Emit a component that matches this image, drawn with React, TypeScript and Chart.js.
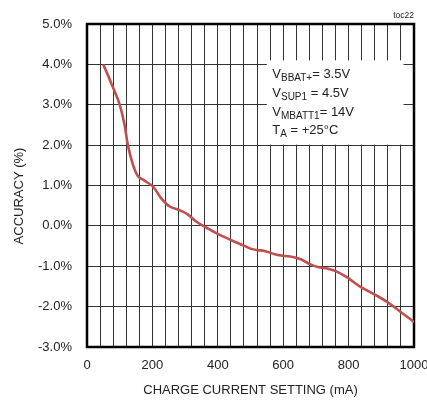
import React, { useEffect, useRef } from "react";
import { Chart, registerables } from "chart.js";

Chart.register(...registerables);

const current = [50, 85, 100, 115, 125, 141, 156, 176, 202, 227, 253, 283, 309, 334, 360, 400, 440, 480, 502, 520, 543, 574, 600, 628, 652, 680, 706, 737, 761, 798, 834, 880, 921, 962, 1000];
const accuracy = [4.0, 3.32, 3.0, 2.5, 2.0, 1.5, 1.23, 1.12, 0.97, 0.68, 0.48, 0.39, 0.28, 0.11, -0.02, -0.2, -0.35, -0.49, -0.57, -0.6, -0.62, -0.7, -0.74, -0.77, -0.82, -0.94, -1.02, -1.06, -1.12, -1.29, -1.5, -1.7, -1.9, -2.15, -2.38];
const xLabelValues = [0, 200, 400, 600, 800, 1000];
const yMin = -3;
const yMax = 5;
const xTitle = "CHARGE CURRENT SETTING (mA)";
const yTitle = "ACCURACY (%)";
const noteLines: [string, string, string][] = [
  ["V", "BBAT+", "= 3.5V"],
  ["V", "SUP1", " = 4.5V"],
  ["V", "MBATT1", "= 14V"],
  ["T", "A", " = +25°C"],
];
const tag = "toc22";

const FONT = "'Liberation Sans', Arial, sans-serif";
const TEXT = "#222";

const overlay = {
  id: "overlay",
  beforeDatasetsDraw(chart: any) {
    const { ctx, chartArea: a, scales } = chart;
    const xs = scales.x, ys = scales.y;
    ctx.save();
    // note box
    const bl = xs.getPixelForValue(550);
    const br = xs.getPixelForValue(968);
    const bt = ys.getPixelForValue(4.1);
    const bb = ys.getPixelForValue(2) - 0.5;
    ctx.fillStyle = "#fff";
    ctx.fillRect(bl, bt, br - bl, bb - bt);
    // border
    ctx.strokeStyle = "#000";
    ctx.lineWidth = 2.5;
    ctx.strokeRect(a.left, a.top, a.right - a.left, a.bottom - a.top);
    // note text
    ctx.fillStyle = TEXT;
    ctx.textBaseline = "alphabetic";
    ctx.textAlign = "left";
    let y = 78.3;
    const x0 = 272.3;
    for (const [m, s, r] of noteLines) {
      ctx.font = `13px ${FONT}`;
      ctx.fillText(m, x0, y);
      let x = x0 + ctx.measureText(m).width;
      ctx.font = `10px ${FONT}`;
      ctx.fillText(s, x, y + 3);
      x += ctx.measureText(s).width;
      ctx.font = `13px ${FONT}`;
      ctx.fillText(r, x, y);
      y += 18.6;
    }
    // tag
    ctx.font = `8.5px ${FONT}`;
    ctx.textAlign = "right";
    ctx.fillText(tag, a.right, 18.3);
    // titles
    ctx.font = `13px ${FONT}`;
    ctx.textAlign = "center";
    ctx.textBaseline = "middle";
    ctx.fillText(xTitle, (a.left + a.right) / 2, 390.5);
    ctx.translate(19, 196);
    ctx.rotate(-Math.PI / 2);
    ctx.fillText(yTitle, 0, 0);
    ctx.restore();
  },
};

export default function App() {
  const ref = useRef<HTMLCanvasElement | null>(null);
  useEffect(() => {
    if (!ref.current) return;
    const chart = new Chart(ref.current, {
      type: "line",
      data: {
        datasets: [
          {
            data: current.map((c, i) => ({ x: c, y: accuracy[i] })),
            borderColor: "#c0504d",
            borderWidth: 2.6,
            pointRadius: 0,
            tension: 0.35,
            fill: false,
          },
        ],
      },
      options: {
        animation: false,
        responsive: false,
        devicePixelRatio: 1,
        layout: { padding: { top: 24, right: 13, left: 0, bottom: 0 } },
        plugins: { legend: { display: false }, tooltip: { enabled: false } },
        scales: {
          x: {
            type: "linear",
            min: 0,
            max: 1000,
            border: { display: false },
            grid: { color: "#333", lineWidth: 1, drawTicks: false },
            ticks: {
              stepSize: 40,
              maxTicksLimit: 100,
              autoSkip: false,
              maxRotation: 0,
              padding: 11,
              color: TEXT,
              font: { family: FONT, size: 13 },
              callback: (v: any) => (xLabelValues.includes(Number(v)) ? String(v) : ""),
            },
            afterFit: (s: any) => {
              s.height = 56;
              s.paddingLeft = 0;
              s.paddingRight = 0;
            },
          },
          y: {
            type: "linear",
            min: yMin,
            max: yMax,
            border: { display: false },
            grid: { color: "#333", lineWidth: 1, drawTicks: false },
            ticks: {
              stepSize: 1,
              padding: 15,
              color: TEXT,
              font: { family: FONT, size: 13 },
              callback: (v: any) => Number(v).toFixed(1) + "%",
            },
            afterFit: (s: any) => {
              s.width = 87;
              s.paddingTop = 0;
              s.paddingBottom = 0;
            },
          },
        },
      },
      plugins: [overlay],
    });
    return () => chart.destroy();
  }, []);
  return (
    <div style={{ position: "absolute", left: 0, top: 0, width: 427, height: 403, background: "#fff" }}>
      <canvas ref={ref} width={427} height={403} style={{ display: "block" }} />
    </div>
  );
}
